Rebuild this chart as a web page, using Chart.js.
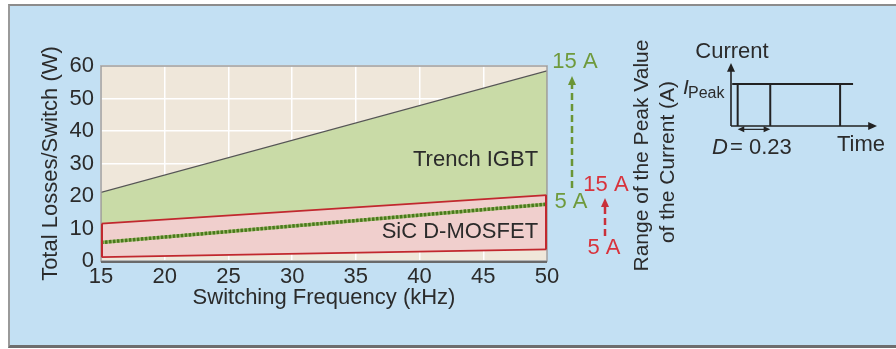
<!DOCTYPE html>
<html>
<head>
<meta charset="utf-8">
<script src="https://cdn.jsdelivr.net/npm/chart.js@4.4.1/dist/chart.umd.min.js"></script>
<style>
    html, body { margin: 0; padding: 0; background: #ffffff; }
    body { width: 896px; height: 349px; position: relative; overflow: hidden; font-family: "Liberation Sans", Arial, sans-serif; }
    #frame {
        position: absolute; left: 8px; top: 4px; width: 900px; height: 339px;
        background: #c3e0f3;
        border-left: 2px solid #9a9a9a; border-top: 2px solid #8c8c8c; border-bottom: 3px solid #6e6e6e;
    }
    #mainChart { position: absolute; left: 0; top: 0; }
    #insetChart { position: absolute; left: 680px; top: 40px; }
</style>
</head>
<body>
<div id="frame"></div>
<canvas id="mainChart" width="896" height="349"></canvas>
<canvas id="insetChart" width="210" height="120"></canvas>

<script>
// ---------- DATA ----------
const freqKHz = [15, 50];
const igbtUpper = [21.1, 58.5];     // top edge of the Trench IGBT band (W)
const mosfetUpper = [11.5, 20.3];   // top edge of the SiC D-MOSFET band (W)
const mosfetLower = [1.2, 3.6];     // bottom edge of the SiC D-MOSFET band (W)
const igbt5A = [5.7, 17.5];         // dotted line, IGBT at 5 A (W)
const yTicks = [0, 10, 20, 30, 40, 50, 60];
const xTicks = [15, 20, 25, 30, 35, 40, 45, 50];

// inset waveform (time in arbitrary units, current normalised to I_peak)
const pulseEdges = [0.17, 1.0, 2.78];
const peakLineSpan = [0.03, 3.11];
const dutySpan = [0.17, 1.0];

const FONT = "'Liberation Sans', Arial, sans-serif";
const TEXT = "#2b2b2b";
const GREEN_TXT = "#6f9a3c";
const RED_TXT = "#d8333c";
const RED_LINE = "#c1282e";

function pts(xs, ys) {
    return xs.map((x, i) => ({ x: x, y: ys[i] }));
}

// ---------- PLOT DECORATION PLUGIN ----------
const decorPlugin = {
    id: "decor",
    beforeDraw(chart) {
        const a = chart.chartArea;
        const ctx = chart.ctx;
        ctx.save();
        ctx.fillStyle = "#efe7da";
        ctx.fillRect(a.left, a.top, a.right - a.left, a.bottom - a.top);
        ctx.restore();
    },
    afterDatasetsDraw(chart) {
        const a = chart.chartArea;
        const ctx = chart.ctx;
        const xs = chart.scales.x, ys = chart.scales.y;
        ctx.save();
        ctx.strokeStyle = "#9a9a9a";
        ctx.lineWidth = 1.5;
        ctx.strokeRect(a.left, a.top, a.right - a.left, a.bottom - a.top);
        ctx.strokeStyle = "#6a6a6a";
        ctx.lineWidth = 2;
        ctx.beginPath();
        ctx.moveTo(a.left, a.bottom + 1);
        ctx.lineTo(a.right, a.bottom + 1);
        ctx.stroke();

        // red band side edges on top of the frame
        ctx.strokeStyle = RED_LINE;
        ctx.lineWidth = 2;
        ctx.beginPath();
        ctx.moveTo(xs.getPixelForValue(freqKHz[0]) + 1, ys.getPixelForValue(mosfetLower[0]));
        ctx.lineTo(xs.getPixelForValue(freqKHz[0]) + 1, ys.getPixelForValue(mosfetUpper[0]));
        ctx.moveTo(xs.getPixelForValue(freqKHz[1]) - 1, ys.getPixelForValue(mosfetLower[1]));
        ctx.lineTo(xs.getPixelForValue(freqKHz[1]) - 1, ys.getPixelForValue(mosfetUpper[1]));
        ctx.stroke();

        // band labels
        ctx.fillStyle = TEXT;
        ctx.font = "22px " + FONT;
        ctx.textAlign = "right";
        ctx.textBaseline = "middle";
        ctx.fillText("Trench IGBT", xs.getPixelForValue(49.3), ys.getPixelForValue(31));
        ctx.fillText("SiC D-MOSFET", xs.getPixelForValue(49.3), ys.getPixelForValue(8.8));

        // current range annotations right of the plot
        const r = a.right;
        ctx.textAlign = "center";
        ctx.fillStyle = GREEN_TXT;
        ctx.fillText("15 A", r + 28, 62);
        ctx.fillText("5 A", r + 24, 202);
        drawDashArrow(ctx, r + 25, 188, 76, "#6a9535");
        ctx.fillStyle = RED_TXT;
        ctx.fillText("15 A", r + 59, 185);
        ctx.fillText("5 A", r + 57, 248);
        drawDashArrow(ctx, r + 58, 236, 198, "#c9303a");

        // right rotated title
        ctx.fillStyle = TEXT;
        ctx.font = "21px " + FONT;
        ctx.save();
        ctx.translate(642, 155.5);
        ctx.rotate(-Math.PI / 2);
        ctx.fillText("Range of the Peak Value", 0, 0);
        ctx.restore();
        ctx.save();
        ctx.translate(668, 162);
        ctx.rotate(-Math.PI / 2);
        ctx.fillText("of the Current (A)", 0, 0);
        ctx.restore();
        ctx.restore();
    }
};

function drawDashArrow(ctx, x, y0, y1, color) {
    ctx.save();
    ctx.strokeStyle = color;
    ctx.fillStyle = color;
    ctx.lineWidth = 2.5;
    ctx.setLineDash([7, 4]);
    ctx.beginPath();
    ctx.moveTo(x, y0);
    ctx.lineTo(x, y1 + 7);
    ctx.stroke();
    ctx.setLineDash([]);
    ctx.beginPath();
    ctx.moveTo(x, y1);
    ctx.lineTo(x - 4, y1 + 9);
    ctx.lineTo(x + 4, y1 + 9);
    ctx.closePath();
    ctx.fill();
    ctx.restore();
}

// ---------- MAIN CHART ----------
new Chart(document.getElementById("mainChart").getContext("2d"), {
    type: "line",
    data: {
        datasets: [
            {
                label: "Trench IGBT",
                data: pts(freqKHz, igbtUpper),
                borderColor: "#555555",
                borderWidth: 1.3,
                backgroundColor: "#c9dba7",
                fill: "+1",
                pointRadius: 0,
                order: 2
            },
            {
                label: "SiC D-MOSFET",
                data: pts(freqKHz, mosfetUpper),
                borderColor: RED_LINE,
                borderWidth: 1.8,
                backgroundColor: "#f0cfcd",
                fill: "+1",
                pointRadius: 0,
                order: 2
            },
            {
                label: "SiC lower",
                data: pts(freqKHz, mosfetLower),
                borderColor: RED_LINE,
                borderWidth: 1.8,
                fill: false,
                pointRadius: 0,
                order: 2
            },
            {
                label: "IGBT 5 A",
                data: pts(freqKHz, igbt5A),
                borderColor: "#4a7a1c",
                borderWidth: 3.5,
                borderDash: [2.5, 1.5],
                fill: false,
                pointRadius: 0,
                order: 0
            },
            {
                label: "IGBT 5 A (base)",
                data: pts(freqKHz, igbt5A),
                borderColor: "#9cb86a",
                borderWidth: 3.5,
                fill: false,
                pointRadius: 0,
                order: 1
            }
        ]
    },
    options: {
        responsive: false,
        animation: false,
        devicePixelRatio: 1,
        layout: { padding: { left: 38, right: 349, top: 66, bottom: 38 } },
        plugins: {
            legend: { display: false },
            tooltip: { enabled: false },
            filler: { drawTime: "beforeDatasetsDraw" }
        },
        scales: {
            x: {
                type: "linear",
                min: 15,
                max: 50,
                afterBuildTicks: s => { s.ticks = xTicks.map(v => ({ value: v })); },
                afterFit: s => { s.height = 50; },
                ticks: { color: TEXT, font: { family: FONT, size: 22 }, padding: 3 },
                grid: { color: "#ffffff", lineWidth: 1.5, drawTicks: false },
                border: { display: false },
                title: { display: true, text: "Switching Frequency (kHz)", color: TEXT, font: { family: FONT, size: 22 }, padding: 0 }
            },
            y: {
                min: 0,
                max: 60,
                afterBuildTicks: s => { s.ticks = yTicks.map(v => ({ value: v })); },
                afterFit: s => { s.width = 63; },
                ticks: { color: TEXT, font: { family: FONT, size: 22 }, padding: 7 },
                grid: { color: "#ffffff", lineWidth: 1.5, drawTicks: false },
                border: { display: false },
                title: { display: true, text: "Total Losses/Switch (W)", color: TEXT, font: { family: FONT, size: 22 }, padding: 0 }
            }
        }
    },
    plugins: [decorPlugin]
});

// ---------- INSET: CURRENT WAVEFORM ----------
const insetPlugin = {
    id: "insetDecor",
    afterDatasetsDraw(chart) {
        const ctx = chart.ctx;
        const xs = chart.scales.x, ys = chart.scales.y;
        const x0 = xs.getPixelForValue(0), y0 = ys.getPixelForValue(0);
        ctx.save();
        ctx.strokeStyle = "#222";
        ctx.fillStyle = "#222";
        ctx.lineWidth = 1.6;
        // axes with arrow heads
        ctx.beginPath();
        ctx.moveTo(x0, y0);
        ctx.lineTo(x0, ys.getPixelForValue(1.5) + 4);
        ctx.moveTo(x0, y0);
        ctx.lineTo(xs.getPixelForValue(3.72) - 4, y0);
        ctx.stroke();
        arrowHead(ctx, x0, ys.getPixelForValue(1.5), 0, -1);
        arrowHead(ctx, xs.getPixelForValue(3.72), y0, 1, 0);

        // duty cycle double arrow
        const yd = ys.getPixelForValue(-0.08);
        const xa = xs.getPixelForValue(dutySpan[0]), xb = xs.getPixelForValue(dutySpan[1]);
        ctx.lineWidth = 1.2;
        ctx.beginPath();
        ctx.moveTo(xa + 4, yd);
        ctx.lineTo(xb - 4, yd);
        ctx.stroke();
        arrowHead(ctx, xa, yd, -1, 0, 3);
        arrowHead(ctx, xb, yd, 1, 0, 3);

        // labels
        ctx.fillStyle = TEXT;
        ctx.font = "22px " + FONT;
        ctx.textAlign = "center";
        ctx.textBaseline = "middle";
        ctx.fillText("Current", x0 + 1, 12);
        ctx.fillText("Time", 181, 105);
        ctx.textAlign = "left";
        ctx.font = "italic 22px " + FONT;
        ctx.fillText("D", 32, 108);
        ctx.font = "22px " + FONT;
        ctx.fillText("= 0.23", 50, 108);
        ctx.font = "italic 21px " + FONT;
        ctx.fillText("I", 3, 48);
        ctx.font = "16px " + FONT;
        ctx.fillText("Peak", 8, 54);
        ctx.restore();
    }
};

function arrowHead(ctx, x, y, dx, dy, size) {
    const s = size || 4;
    ctx.beginPath();
    ctx.moveTo(x, y);
    ctx.lineTo(x - dx * 2.2 * s - dy * s, y - dy * 2.2 * s - dx * s);
    ctx.lineTo(x - dx * 2.2 * s + dy * s, y - dy * 2.2 * s + dx * s);
    ctx.closePath();
    ctx.fill();
}

const insetSets = pulseEdges.map(t => ({
    data: [{ x: t, y: 0 }, { x: t, y: 1 }],
    showLine: true,
    borderColor: "#222222",
    borderWidth: 2,
    pointRadius: 0
}));
insetSets.push({
    data: [{ x: peakLineSpan[0], y: 1 }, { x: peakLineSpan[1], y: 1 }],
    showLine: true,
    borderColor: "#222222",
    borderWidth: 2,
    pointRadius: 0
});

new Chart(document.getElementById("insetChart").getContext("2d"), {
    type: "scatter",
    data: { datasets: insetSets },
    options: {
        responsive: false,
        animation: false,
        devicePixelRatio: 1,
        layout: { padding: { left: 51, right: 13, top: 23, bottom: 34 } },
        plugins: { legend: { display: false }, tooltip: { enabled: false } },
        scales: {
            x: { type: "linear", min: 0, max: 3.72, display: false },
            y: { type: "linear", min: 0, max: 1.5, display: false }
        }
    },
    plugins: [insetPlugin]
});
</script>
</body>
</html>
